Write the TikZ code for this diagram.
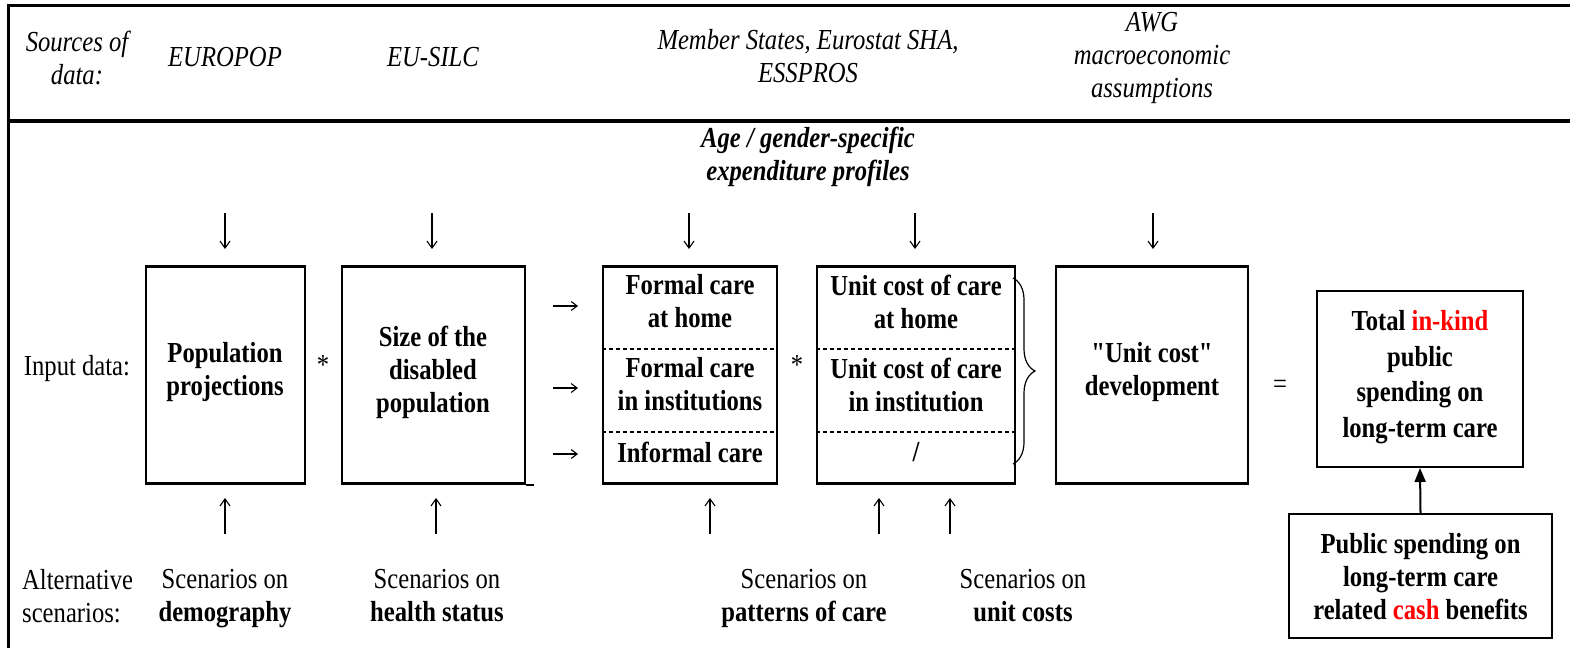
\documentclass[tikz,border=0pt]{standalone}
\usepackage{fontspec}
\setmainfont{Liberation Serif}[FakeStretch=0.85,Ligatures=TeXOff]
\usetikzlibrary{arrows.meta,decorations.pathreplacing,calc}
\begin{document}
\begin{tikzpicture}[x=1pt,y=-1pt,
  txt/.style={inner sep=0pt,align=center,font=\fontsize{29}{33}\selectfont},
  srcs/.style={txt,font=\fontsize{29}{33}\selectfont\itshape},
  bt/.style={txt,font=\fontsize{29}{33}\selectfont\bfseries},
  boxr/.style={draw,line width=2.4pt,inner sep=0pt},
  boxs/.style={draw,line width=2pt,inner sep=0pt},
  dline/.style={line width=1.4pt,dash pattern=on 4pt off 3pt},
  gar/.style={line width=1.1pt,-{Straight Barb[length=7pt,width=10pt]}},
  frame/.style={line width=3pt},
  bigar/.style={line width=2pt,-{Triangle[length=14pt,width=11pt]}},
  brc/.style={line width=1.2pt,decorate,decoration={brace,amplitude=22pt}}]
\useasboundingbox (0,0) rectangle (1570,648);
\fill[white] (0,0) rectangle (1570,648);
% frame
\coordinate (ftl) at (8,5.5);
\coordinate (ftr) at (1570,5.5);
\coordinate (fbl) at (8,648);
\coordinate (fdl) at (8,121);
\coordinate (fdr) at (1570,121);
\draw[frame] (ftr) -- (ftl) -- (fbl);
\draw[line width=4pt] (fdl) -- (fdr);
% header texts
\node[srcs] (hsrc) at (77,57.5) {Sources of\\data:};
\node[srcs] (heuropop) at (225,57) {EUROPOP};
\node[srcs] (hsilc) at (433,57) {EU-SILC};
\node[srcs] (hms) at (808,56.5) {Member States, Eurostat SHA,\\ESSPROS};
\node[srcs] (hawg) at (1152,58) {AWG\\macroeconomic\\assumptions};
\node[txt,font=\fontsize{29}{33}\selectfont\bfseries\itshape] (hage) at (808,156.5) {Age / gender-specific\\expenditure profiles};
% boxes
\node[boxr,minimum width=159pt,minimum height=217pt] (b1) at (225.5,375) {};
\node[boxr,minimum width=183pt,minimum height=217pt] (b2) at (433.5,375) {};
\node[boxr,minimum width=174pt,minimum height=217pt] (b3) at (690,375) {};
\node[boxr,minimum width=198pt,minimum height=217pt] (b4) at (916,375) {};
\node[boxr,minimum width=192pt,minimum height=217pt] (b5) at (1152,375) {};
\node[boxs,minimum width=206pt,minimum height=176pt] (b6) at (1420,379) {};
\node[boxs,minimum width=263pt,minimum height=124pt] (b7) at (1420.5,576) {};
\draw[line width=2.4pt] (b2.south east) -- ++(8,0) coordinate (b2x);
% dashed separators
\coordinate (s1) at (0,349);
\coordinate (s2) at (0,432);
\foreach \b in {b3,b4}{
  \draw[dline] (\b.west |- s1) -- (\b.east |- s1);
  \draw[dline] (\b.west |- s2) -- (\b.east |- s2);
}
% box texts
\node[bt] (t1) at (225,372) {Population\\projections};
\node[bt] (t2) at (433,372) {Size of the\\disabled\\population};
\node[bt] (t3a) at (690,301.5) {Formal care\\at home};
\node[bt] (t3b) at (690,384.5) {Formal care\\in institutions};
\node[bt] (t3c) at (690,452) {Informal care};
\node[bt] (t4a) at (916,301.5) {Unit cost of care\\at home};
\node[bt] (t4b) at (916,384.5) {Unit cost of care\\in institution};
\node[bt] (t4c) at (916,452) {/};
\node[bt] (t5) at (1152,372) {"Unit cost"\\development};
\node[bt,font=\fontsize{29}{35.5}\selectfont\bfseries] (t6) at (1420,377) {Total \textcolor{red}{in-kind}\\public\\spending on\\long-term care};
\node[bt] (t7) at (1420.5,577) {Public spending on\\long-term care\\related \textcolor{red}{cash} benefits};
% operators
\node[txt] (star1) at (323,365) {*};
\node[txt] (star2) at (797,365) {*};
\node[txt] (eq) at (1280,387) {=};
\node[txt] (inp) at (77,369) {Input data:};
% brace
\coordinate (brt) at (1013,278);
\coordinate (brb) at (1013,464);
\draw[brc] (brt) -- (brb);
% down arrows
\foreach \n/\x in {1/225,2/432,3/689,4/915,5/1153}{
  \coordinate (da\n) at (\x,213);
  \coordinate (db\n) at (\x,249);
  \draw[gar] (da\n) -- (db\n);
}
% right arrows
\foreach \n/\y in {1/306,2/388,3/454}{
  \coordinate (ra\n) at (553,\y);
  \coordinate (rb\n) at (578,\y);
  \draw[gar,-{Straight Barb[length=6pt,width=9pt]}] (ra\n) -- (rb\n);
}
% up arrows
\foreach \n/\x in {1/225,2/436,3/710,4/879,5/950}{
  \coordinate (ua\n) at (\x,534);
  \coordinate (ub\n) at (\x,498);
  \draw[gar] (ua\n) -- (ub\n);
}
% cash -> total arrow
\draw[bigar] (b7.north) -- (b6.south);
% bottom texts
\node[txt,align=left,anchor=north west] (alt) at (22,569) {Alternative\\scenarios:};
\node[txt,anchor=north] (sc1) at (225,569) {Scenarios on\\\textbf{demography}};
\node[txt,anchor=north] (sc2) at (437,569) {Scenarios on\\\textbf{health status}};
\node[txt,anchor=north] (sc3) at (804,569) {Scenarios on\\\textbf{patterns of care}};
\node[txt,anchor=north] (sc4) at (1023,569) {Scenarios on\\\textbf{unit costs}};
\end{tikzpicture}
\end{document}
